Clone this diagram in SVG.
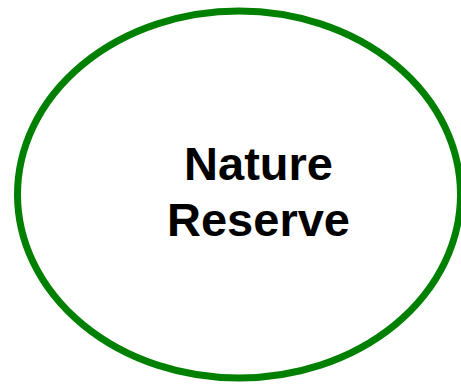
<svg xmlns="http://www.w3.org/2000/svg" width="461" height="385" viewBox="0 0 461 385">
<style>
.shape{fill:#ffffff;stroke:#008000;stroke-width:7}
.label{font-family:"Liberation Sans",Arial,sans-serif;font-weight:bold;font-size:47px;fill:#000000;text-anchor:middle}
</style>
<rect width="461" height="385" fill="#ffffff"/>
<g id="nature-reserve">
<ellipse class="shape" cx="239" cy="194.5" rx="221.5" ry="183.5"/>
<text class="label" x="258.5"><tspan x="258.5" y="180">Nature</tspan><tspan x="258.5" y="236">Reserve</tspan></text>
</g>
<g id="connectors"/>
</svg>
